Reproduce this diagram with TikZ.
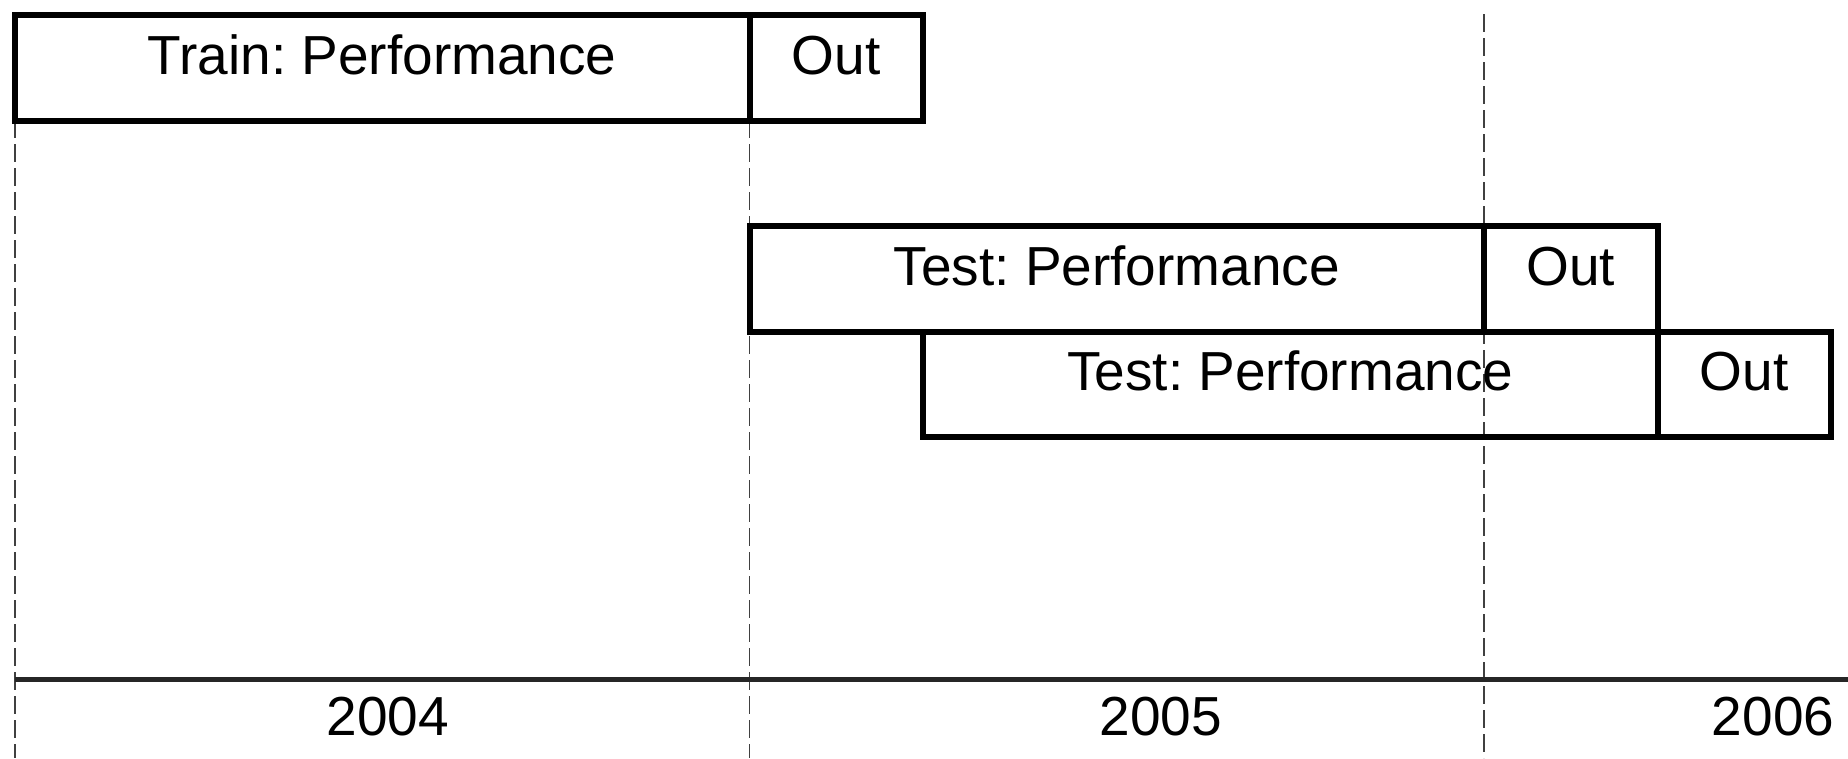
\documentclass[tikz,border=0pt]{standalone}
\usepackage{fontspec}
\setmainfont{Liberation Sans}
\frenchspacing
\begin{document}
\begin{tikzpicture}[x=1pt,y=-1pt,
  seg/.style={draw, line width=6pt, rectangle, inner xsep=0pt, inner ysep=0pt,
    outer sep=0pt, minimum height=105.5pt, text height=59pt, text depth=46.5pt,
    anchor=north west, font=\fontsize{55}{60}\selectfont},
  yearbox/.style={minimum width=734.5pt},
  outbox/.style={minimum width=173.5pt},
  guide/.style={line width=1.7pt, black!75, dash pattern=on 18pt off 6pt},
  axis/.style={line width=5pt, black!85},
  yearlabel/.style={anchor=base, inner sep=0pt, font=\fontsize{55}{60}\selectfont}]

  \useasboundingbox (0,0) rectangle (1848,758);

  % year boundaries (drawn first so the boxes sit on top)
  \coordinate (g0) at (15,120);
  \coordinate (g1) at (749.5,120);
  \coordinate (g2) at (1484,14);
  \coordinate (g0b) at (15,758);
  \coordinate (g1b) at (749.5,758);
  \coordinate (g2b) at (1484,758);
  \draw[guide] (g0) -- (g0b);
  \draw[guide] (g1) -- (g1b);
  \draw[guide] (g2) -- (g2b);

  % time axis
  \coordinate (ax0) at (15,679);
  \coordinate (ax1) at (1848,679);
  \draw[axis] (ax0) -- (ax1);

  % training window
  \node[seg, yearbox] (train) at (15,15) {Train: Performance};
  \node[seg, outbox] (out1) at (train.north east) {Out};

  % first test window
  \node[seg, yearbox] (test1) at (749.5,226) {Test: Performance};
  \node[seg, outbox] (out2) at (test1.north east) {Out};

  % second test window, shifted by one out-of-sample period
  \node[seg, yearbox] (test2) at (out1.east |- test1.south) {Test: Performance};
  \node[seg, outbox] (out3) at (test2.north east) {Out};

  % year labels
  \node[yearlabel] (y2004) at (388,735) {2004};
  \node[yearlabel] (y2005) at (1161,735) {2005};
  \node[yearlabel] (y2006) at (1773,735) {2006};
\end{tikzpicture}
\end{document}
